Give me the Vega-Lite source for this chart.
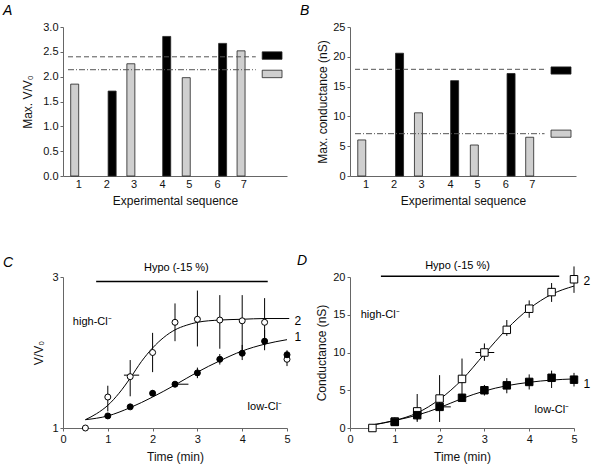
{
  "$schema": "https://vega.github.io/schema/vega-lite/v6.json",
  "autosize": {"type": "none"},
  "padding": {"left": 63, "top": 27, "right": 532, "bottom": 440},
  "background": "white",
  "config": {
    "font": "Liberation Sans",
    "view": {"stroke": null},
    "axis": {"grid": false, "domainColor": "#666", "tickColor": "#666", "labelColor": "#111", "titleColor": "#111", "labelFontSize": 11, "titleFontSize": 12, "titleFontWeight": "normal", "tickSize": 3, "labelPadding": 2, "labelOverlap": false, "labelFlush": false},
    "title": {"fontSize": 14, "fontStyle": "italic", "fontWeight": "normal", "anchor": "start", "frame": "group", "color": "#000"}
  },
  "resolve": {"scale": {"fill": "independent", "strokeDash": "independent"}},
  "datasets": {
    "barsA": [
      {"seq": 1, "pos": 0.25, "val": 1.85, "kind": "striped"},
      {"seq": 2, "pos": 1.65, "val": 1.71, "kind": "black"},
      {"seq": 3, "pos": 2.35, "val": 2.26, "kind": "striped"},
      {"seq": 4, "pos": 3.69, "val": 2.81, "kind": "black"},
      {"seq": 5, "pos": 4.42, "val": 1.98, "kind": "striped"},
      {"seq": 6, "pos": 5.78, "val": 2.67, "kind": "black"},
      {"seq": 7, "pos": 6.47, "val": 2.52, "kind": "striped"}
    ],
    "meansA": [
      {"kind": "black", "mean": 2.40, "lo": 2.35, "hi": 2.50},
      {"kind": "striped", "mean": 2.14, "lo": 1.98, "hi": 2.13}
    ],
    "barsB": [
      {"seq": 1, "pos": 0.25, "val": 6.05, "kind": "striped"},
      {"seq": 2, "pos": 1.65, "val": 20.6, "kind": "black"},
      {"seq": 3, "pos": 2.35, "val": 10.6, "kind": "striped"},
      {"seq": 4, "pos": 3.69, "val": 16.0, "kind": "black"},
      {"seq": 5, "pos": 4.42, "val": 5.2, "kind": "striped"},
      {"seq": 6, "pos": 5.78, "val": 17.2, "kind": "black"},
      {"seq": 7, "pos": 6.47, "val": 6.5, "kind": "striped"}
    ],
    "meansB": [
      {"kind": "black", "mean": 17.9, "lo": 17.1, "hi": 18.3},
      {"kind": "striped", "mean": 7.1, "lo": 6.5, "hi": 7.7}
    ],
    "fitC": [
      {"t": 0.5, "v": 1.11, "cond": "high"}, {"t": 0.75, "v": 1.19, "cond": "high"}, {"t": 1.0, "v": 1.30, "cond": "high"},
      {"t": 1.25, "v": 1.46, "cond": "high"}, {"t": 1.5, "v": 1.66, "cond": "high"}, {"t": 1.75, "v": 1.88, "cond": "high"},
      {"t": 2.0, "v": 2.06, "cond": "high"}, {"t": 2.25, "v": 2.20, "cond": "high"}, {"t": 2.5, "v": 2.30, "cond": "high"},
      {"t": 2.75, "v": 2.36, "cond": "high"}, {"t": 3.0, "v": 2.40, "cond": "high"}, {"t": 3.5, "v": 2.43, "cond": "high"},
      {"t": 4.0, "v": 2.44, "cond": "high"}, {"t": 4.5, "v": 2.45, "cond": "high"}, {"t": 5.05, "v": 2.45, "cond": "high"},
      {"t": 0.5, "v": 1.11, "cond": "low"}, {"t": 1.0, "v": 1.16, "cond": "low"}, {"t": 1.5, "v": 1.27, "cond": "low"},
      {"t": 2.0, "v": 1.41, "cond": "low"}, {"t": 2.5, "v": 1.57, "cond": "low"}, {"t": 3.0, "v": 1.74, "cond": "low"},
      {"t": 3.5, "v": 1.89, "cond": "low"}, {"t": 4.0, "v": 2.02, "cond": "low"}, {"t": 4.5, "v": 2.11, "cond": "low"},
      {"t": 5.0, "v": 2.17, "cond": "low"}
    ],
    "ptsC": [
      {"t": 0.5, "v": 1.0, "lo": 1.0, "hi": 1.0, "cond": "high"},
      {"t": 1.0, "v": 1.41, "lo": 1.22, "hi": 1.56, "cond": "high"},
      {"t": 1.5, "v": 1.68, "lo": 1.42, "hi": 1.90, "cond": "high"},
      {"t": 2.0, "v": 2.00, "lo": 1.74, "hi": 2.26, "cond": "high"},
      {"t": 2.5, "v": 2.40, "lo": 2.15, "hi": 2.65, "cond": "high"},
      {"t": 3.0, "v": 2.44, "lo": 2.08, "hi": 2.82, "cond": "high"},
      {"t": 3.5, "v": 2.43, "lo": 2.05, "hi": 2.76, "cond": "high"},
      {"t": 4.0, "v": 2.42, "lo": 1.98, "hi": 2.76, "cond": "high"},
      {"t": 4.5, "v": 2.40, "lo": 2.08, "hi": 2.72, "cond": "high"},
      {"t": 5.0, "v": 1.91, "lo": 1.82, "hi": 1.98, "cond": "high"},
      {"t": 1.0, "v": 1.16, "lo": 1.14, "hi": 1.18, "cond": "low"},
      {"t": 1.5, "v": 1.28, "lo": 1.26, "hi": 1.30, "cond": "low"},
      {"t": 2.0, "v": 1.46, "lo": 1.42, "hi": 1.50, "cond": "low"},
      {"t": 2.5, "v": 1.58, "lo": 1.56, "hi": 1.60, "cond": "low"},
      {"t": 3.0, "v": 1.73, "lo": 1.66, "hi": 1.80, "cond": "low"},
      {"t": 3.5, "v": 1.91, "lo": 1.84, "hi": 1.98, "cond": "low"},
      {"t": 4.0, "v": 1.99, "lo": 1.90, "hi": 2.10, "cond": "low"},
      {"t": 4.5, "v": 2.15, "lo": 2.03, "hi": 2.30, "cond": "low"},
      {"t": 5.0, "v": 1.97, "lo": 1.92, "hi": 2.03, "cond": "low"}
    ],
    "xerrC": [
      {"v": 1.70, "tlo": 1.36, "thi": 1.70},
      {"v": 1.58, "tlo": 2.47, "thi": 2.80}
    ],
    "labC": [
      {"t": 0.22, "v": 2.40, "text": "high-Cl⁻", "fs": "s"},
      {"t": 4.12, "v": 1.28, "text": "low-Cl⁻", "fs": "s"},
      {"t": 5.17, "v": 2.42, "text": "2", "fs": "n"},
      {"t": 5.17, "v": 2.21, "text": "1", "fs": "n"}
    ],
    "fitD": [
      {"t": 0.5, "v": 0.4, "cond": "high"}, {"t": 1.0, "v": 1.0, "cond": "high"}, {"t": 1.5, "v": 2.0, "cond": "high"},
      {"t": 2.0, "v": 3.8, "cond": "high"}, {"t": 2.5, "v": 6.4, "cond": "high"}, {"t": 3.0, "v": 9.8, "cond": "high"},
      {"t": 3.5, "v": 13.1, "cond": "high"}, {"t": 4.0, "v": 15.8, "cond": "high"}, {"t": 4.5, "v": 17.7, "cond": "high"},
      {"t": 5.0, "v": 18.8, "cond": "high"},
      {"t": 0.5, "v": 0.4, "cond": "low"}, {"t": 1.0, "v": 1.0, "cond": "low"}, {"t": 1.5, "v": 1.7, "cond": "low"},
      {"t": 2.0, "v": 2.7, "cond": "low"}, {"t": 2.5, "v": 3.9, "cond": "low"}, {"t": 3.0, "v": 4.9, "cond": "low"},
      {"t": 3.5, "v": 5.6, "cond": "low"}, {"t": 4.0, "v": 6.05, "cond": "low"}, {"t": 4.5, "v": 6.35, "cond": "low"},
      {"t": 5.0, "v": 6.5, "cond": "low"}
    ],
    "ptsD": [
      {"t": 0.5, "v": 0.0, "lo": 0.0, "hi": 0.0, "cond": "high"},
      {"t": 1.0, "v": 0.85, "lo": 0.4, "hi": 1.4, "cond": "high"},
      {"t": 1.5, "v": 2.2, "lo": 0.8, "hi": 4.5, "cond": "high"},
      {"t": 2.0, "v": 3.9, "lo": 0.8, "hi": 7.0, "cond": "high"},
      {"t": 2.5, "v": 6.5, "lo": 3.8, "hi": 9.2, "cond": "high"},
      {"t": 3.0, "v": 10.0, "lo": 8.9, "hi": 11.2, "cond": "high"},
      {"t": 3.5, "v": 13.0, "lo": 12.2, "hi": 14.3, "cond": "high"},
      {"t": 4.0, "v": 15.8, "lo": 14.6, "hi": 16.9, "cond": "high"},
      {"t": 4.5, "v": 18.0, "lo": 16.7, "hi": 19.2, "cond": "high"},
      {"t": 5.0, "v": 19.7, "lo": 17.9, "hi": 21.4, "cond": "high"},
      {"t": 1.0, "v": 0.8, "lo": 0.4, "hi": 1.2, "cond": "low"},
      {"t": 1.5, "v": 1.7, "lo": 1.0, "hi": 2.6, "cond": "low"},
      {"t": 2.0, "v": 2.8, "lo": 2.3, "hi": 3.3, "cond": "low"},
      {"t": 2.5, "v": 4.0, "lo": 3.5, "hi": 4.5, "cond": "low"},
      {"t": 3.0, "v": 5.0, "lo": 4.3, "hi": 5.7, "cond": "low"},
      {"t": 3.5, "v": 5.65, "lo": 4.6, "hi": 6.6, "cond": "low"},
      {"t": 4.0, "v": 6.1, "lo": 5.1, "hi": 7.1, "cond": "low"},
      {"t": 4.5, "v": 6.65, "lo": 5.3, "hi": 7.6, "cond": "low"},
      {"t": 5.0, "v": 6.4, "lo": 5.5, "hi": 7.3, "cond": "low"}
    ],
    "xerrD": [
      {"v": 10.0, "tlo": 2.8, "thi": 3.22},
      {"v": 2.8, "tlo": 1.94, "thi": 2.25}
    ],
    "labD": [
      {"t": 0.24, "v": 15.0, "text": "high-Cl⁻", "fs": "s"},
      {"t": 4.12, "v": 2.44, "text": "low-Cl⁻", "fs": "s"},
      {"t": 5.21, "v": 19.5, "text": "2", "fs": "n"},
      {"t": 5.21, "v": 5.87, "text": "1", "fs": "n"}
    ]
  },
  "bounds": "flush",
  "columns": 2,
  "spacing": {"row": 101, "column": 63},
  "concat": [
    {
      "width": 224, "height": 149,
      "title": {"text": "A", "dx": -60, "offset": 3},
      "layer": [
        {
          "data": {"name": "barsA"},
          "mark": {"type": "bar", "orient": "vertical", "size": 8, "stroke": "#222", "strokeWidth": 0.8},
          "encoding": {
            "x": {"field": "pos", "type": "quantitative", "scale": {"domain": [0, 8], "nice": false},
                  "axis": {"values": [0.39, 1.43, 2.45, 3.52, 4.52, 5.57, 6.55], "tickCount": 30, "labelExpr": "ceil(datum.value)", "ticks": false, "title": "Experimental sequence", "titlePadding": 6}},
            "y": {"field": "val", "type": "quantitative", "scale": {"domain": [0, 3], "nice": false},
                  "axis": {"values": [0, 0.5, 1, 1.5, 2, 2.5, 3], "tickCount": 30, "format": ".1f", "title": "Max. V/V₀", "titleX": -29}},
            "fill": {"field": "kind", "type": "nominal", "scale": {"domain": ["black", "striped"], "range": ["#000000", "#cfcfcf"]}, "legend": null}
          }
        },
        {
          "data": {"name": "meansA"},
          "mark": {"type": "rule", "color": "#555", "strokeWidth": 1},
          "encoding": {
            "x": {"datum": 0},
            "x2": {"datum": 7.02},
            "y": {"field": "mean", "type": "quantitative"},
            "strokeDash": {"field": "kind", "type": "nominal", "scale": {"domain": ["black", "striped"], "range": [[5, 3], [6, 2, 1, 2]]}, "legend": null}
          }
        },
        {
          "data": {"name": "meansA"},
          "mark": {"type": "rect", "stroke": "#222", "strokeWidth": 0.8},
          "encoding": {
            "x": {"datum": 7.26},
            "x2": {"datum": 8.0},
            "y": {"field": "lo", "type": "quantitative"},
            "y2": {"field": "hi"},
            "fill": {"field": "kind", "type": "nominal", "legend": null}
          }
        }
      ]
    },
    {
      "width": 226, "height": 149,
      "title": {"text": "B", "dx": -50, "offset": 3},
      "layer": [
        {
          "data": {"name": "barsB"},
          "mark": {"type": "bar", "orient": "vertical", "size": 8, "stroke": "#222", "strokeWidth": 0.8},
          "encoding": {
            "x": {"field": "pos", "type": "quantitative", "scale": {"domain": [0, 8], "nice": false},
                  "axis": {"values": [0.39, 1.43, 2.45, 3.52, 4.52, 5.57, 6.55], "tickCount": 30, "labelExpr": "ceil(datum.value)", "ticks": false, "title": "Experimental sequence", "titlePadding": 6}},
            "y": {"field": "val", "type": "quantitative", "scale": {"domain": [0, 25], "nice": false},
                  "axis": {"values": [0, 5, 10, 15, 20, 25], "tickCount": 30, "format": "d", "title": "Max. conductance (nS)", "titleX": -21}},
            "fill": {"field": "kind", "type": "nominal", "scale": {"domain": ["black", "striped"], "range": ["#000000", "#cfcfcf"]}, "legend": null}
          }
        },
        {
          "data": {"name": "meansB"},
          "mark": {"type": "rule", "color": "#555", "strokeWidth": 1},
          "encoding": {
            "x": {"datum": 0},
            "x2": {"datum": 7.02},
            "y": {"field": "mean", "type": "quantitative"},
            "strokeDash": {"field": "kind", "type": "nominal", "scale": {"domain": ["black", "striped"], "range": [[5, 3], [6, 2, 1, 2]]}, "legend": null}
          }
        },
        {
          "data": {"name": "meansB"},
          "mark": {"type": "rect", "stroke": "#222", "strokeWidth": 0.8},
          "encoding": {
            "x": {"datum": 7.26},
            "x2": {"datum": 8.0},
            "y": {"field": "lo", "type": "quantitative"},
            "y2": {"field": "hi"},
            "fill": {"field": "kind", "type": "nominal", "legend": null}
          }
        }
      ]
    },
    {
      "width": 224, "height": 151,
      "title": {"text": "C", "dx": -60, "offset": 0, "dy": 8},
      "layer": [
        {
          "data": {"values": [{"a": 1}]},
          "mark": {"type": "rule", "color": "#000", "strokeWidth": 1.5},
          "encoding": {"x": {"datum": 0.74}, "x2": {"datum": 4.57}, "y": {"datum": 2.94}}
        },
        {
          "data": {"values": [{"a": 1}]},
          "mark": {"type": "text", "text": "Hypo (-15 %)", "fontSize": 11, "baseline": "middle", "align": "center"},
          "encoding": {"x": {"datum": 2.53}, "y": {"datum": 3.12}}
        },
        {
          "data": {"name": "fitC"},
          "mark": {"type": "line", "interpolate": "monotone", "color": "#000", "strokeWidth": 1},
          "encoding": {
            "x": {"field": "t", "type": "quantitative", "scale": {"domain": [0, 5], "nice": false},
                  "axis": {"values": [0, 1, 2, 3, 4, 5], "tickCount": 30, "format": "d", "title": "Time (min)", "titlePadding": 7}},
            "y": {"field": "v", "type": "quantitative", "scale": {"domain": [1, 3], "nice": false, "zero": false},
                  "axis": {"values": [1, 2, 3], "tickCount": 30, "format": "d", "title": "V/V₀", "titleX": -18}},
            "detail": {"field": "cond"}
          }
        },
        {
          "data": {"name": "ptsC"},
          "mark": {"type": "rule", "color": "#000", "strokeWidth": 1},
          "encoding": {"x": {"field": "t", "type": "quantitative"}, "y": {"field": "lo", "type": "quantitative"}, "y2": {"field": "hi"}}
        },
        {
          "data": {"name": "xerrC"},
          "mark": {"type": "rule", "color": "#000", "strokeWidth": 1},
          "encoding": {"x": {"field": "tlo", "type": "quantitative"}, "x2": {"field": "thi"}, "y": {"field": "v", "type": "quantitative"}}
        },
        {
          "data": {"name": "ptsC"},
          "mark": {"type": "point", "shape": "circle", "size": 36, "stroke": "#000", "strokeWidth": 1, "filled": false, "opacity": 1},
          "encoding": {
            "x": {"field": "t", "type": "quantitative"},
            "y": {"field": "v", "type": "quantitative"},
            "fill": {"field": "cond", "type": "nominal", "scale": {"domain": ["high", "low"], "range": ["#ffffff", "#000000"]}, "legend": null}
          }
        },
        {
          "data": {"name": "labC"},
          "mark": {"type": "text", "align": "left", "baseline": "middle", "color": "#000"},
          "encoding": {"x": {"field": "t", "type": "quantitative"}, "y": {"field": "v", "type": "quantitative"}, "text": {"field": "text"},
                       "size": {"field": "fs", "type": "nominal", "scale": {"domain": ["s", "n"], "range": [11, 12]}, "legend": null}}
        }
      ]
    },
    {
      "width": 224, "height": 151,
      "title": {"text": "D", "dx": -53, "offset": 0, "dy": 8},
      "layer": [
        {
          "data": {"values": [{"a": 1}]},
          "mark": {"type": "rule", "color": "#000", "strokeWidth": 1.5},
          "encoding": {"x": {"datum": 0.69}, "x2": {"datum": 4.67}, "y": {"datum": 20.1}}
        },
        {
          "data": {"values": [{"a": 1}]},
          "mark": {"type": "text", "text": "Hypo (-15 %)", "fontSize": 11, "baseline": "middle", "align": "center"},
          "encoding": {"x": {"datum": 2.4}, "y": {"datum": 21.4}}
        },
        {
          "data": {"name": "fitD"},
          "mark": {"type": "line", "interpolate": "monotone", "color": "#000", "strokeWidth": 1},
          "encoding": {
            "x": {"field": "t", "type": "quantitative", "scale": {"domain": [0, 5], "nice": false},
                  "axis": {"values": [0, 1, 2, 3, 4, 5], "tickCount": 30, "format": "d", "title": "Time (min)", "titlePadding": 7}},
            "y": {"field": "v", "type": "quantitative", "scale": {"domain": [0, 20], "nice": false},
                  "axis": {"values": [0, 5, 10, 15, 20], "tickCount": 30, "format": "d", "title": "Conductance (nS)", "titleX": -22}},
            "detail": {"field": "cond"}
          }
        },
        {
          "data": {"name": "ptsD"},
          "mark": {"type": "rule", "color": "#000", "strokeWidth": 1},
          "encoding": {"x": {"field": "t", "type": "quantitative"}, "y": {"field": "lo", "type": "quantitative"}, "y2": {"field": "hi"}}
        },
        {
          "data": {"name": "xerrD"},
          "mark": {"type": "rule", "color": "#000", "strokeWidth": 1},
          "encoding": {"x": {"field": "tlo", "type": "quantitative"}, "x2": {"field": "thi"}, "y": {"field": "v", "type": "quantitative"}}
        },
        {
          "data": {"name": "ptsD"},
          "mark": {"type": "point", "shape": "square", "size": 56, "stroke": "#000", "strokeWidth": 1, "filled": false, "opacity": 1},
          "encoding": {
            "x": {"field": "t", "type": "quantitative"},
            "y": {"field": "v", "type": "quantitative"},
            "fill": {"field": "cond", "type": "nominal", "scale": {"domain": ["high", "low"], "range": ["#ffffff", "#000000"]}, "legend": null}
          }
        },
        {
          "data": {"name": "labD"},
          "mark": {"type": "text", "align": "left", "baseline": "middle", "color": "#000"},
          "encoding": {"x": {"field": "t", "type": "quantitative"}, "y": {"field": "v", "type": "quantitative"}, "text": {"field": "text"},
                       "size": {"field": "fs", "type": "nominal", "scale": {"domain": ["s", "n"], "range": [11, 12]}, "legend": null}}
        }
      ]
    }
  ]
}
